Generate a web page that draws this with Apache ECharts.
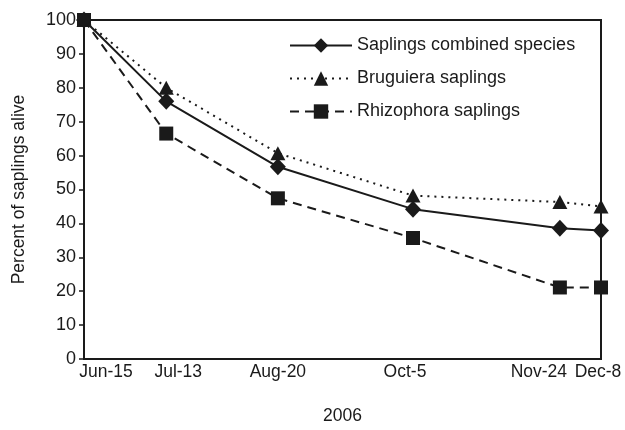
<!DOCTYPE html>
<html>
<head>
<meta charset="utf-8">
<script src="https://cdn.jsdelivr.net/npm/echarts@6/dist/echarts.min.js"></script>
<style>
html, body { margin: 0; padding: 0; background: #fff; }
#chart { width: 625px; height: 430px; }
</style>
</head>
<body>
<div id="chart"></div>
<script>
// sampling dates (2006) and days since Jun-15
var dateLabels = ['Jun-15', 'Jul-13', 'Aug-20', 'Oct-5', 'Nov-24', 'Dec-8'];
var dayNums = [0, 28, 66, 112, 162, 176];

// percent of saplings alive
var combined = [100, 76, 56.7, 44.2, 38.6, 37.9];
var bruguiera = [100, 80, 60.7, 48.2, 46.3, 45];
var rhizophora = [100, 66.5, 47.4, 35.7, 21.1, 21.1];

var yTicks = [0, 10, 20, 30, 40, 50, 60, 70, 80, 90, 100];

// label nudges (px) so the date labels don't crowd each other
var labelShift = [22, 12, 0, -8, -21, -3];

function pairs(vals) {
    return vals.map(function (v, i) { return [dayNums[i], v]; });
}

var rich = {};
labelShift.forEach(function (s, i) {
    rich['l' + i] = {
        fontFamily: 'Liberation Sans',
        fontSize: 17.5,
        color: '#1a1a1a',
        padding: s >= 0 ? [0, 0, 0, 2 * s] : [0, -2 * s, 0, 0]
    };
});

(function () {
    var myChart = echarts.init(document.getElementById('chart'));

    var option = {
        backgroundColor: '#fff',
        animation: false,
        textStyle: { fontFamily: 'Liberation Sans', color: '#1a1a1a' },
        grid: {
            left: 84, right: 24, top: 20, bottom: 63,
            show: true, borderColor: '#1a1a1a', borderWidth: 2
        },
        legend: {
            orient: 'vertical',
            left: 289,
            top: 36,
            padding: 0,
            itemWidth: 62,
            itemHeight: 18,
            itemGap: 14,
            textStyle: { fontSize: 18, color: '#1a1a1a', lineHeight: 19 },
            data: ['Saplings combined species', 'Bruguiera saplings', 'Rhizophora saplings']
        },
        xAxis: {
            type: 'value',
            min: 0,
            max: 176,
            name: '2006',
            nameLocation: 'middle',
            nameGap: 48,
            nameTextStyle: { fontSize: 17.5, color: '#1a1a1a' },
            splitLine: { show: false },
            axisLine: { lineStyle: { color: '#1a1a1a', width: 2 } },
            axisTick: { show: false },
            axisLabel: {
                customValues: dayNums,
                margin: 4,
                formatter: function (v) {
                    var i = dayNums.indexOf(v);
                    return '{l' + i + '|' + dateLabels[i] + '}';
                },
                rich: rich
            }
        },
        yAxis: {
            type: 'value',
            min: 0,
            max: 100,
            interval: 10,
            name: 'Percent of saplings alive',
            nameLocation: 'middle',
            nameGap: 56,
            nameTextStyle: { fontSize: 17.5, color: '#1a1a1a' },
            splitLine: { show: false },
            axisLine: { show: true, lineStyle: { color: '#1a1a1a', width: 2 } },
            axisTick: { show: true, length: 5, lineStyle: { color: '#1a1a1a', width: 1.5 } },
            axisLabel: {
                fontSize: 18,
                color: '#1a1a1a',
                margin: 8,
                formatter: function (v) { return yTicks.indexOf(v) >= 0 ? String(v) : ''; }
            }
        },
        series: [
            {
                name: 'Saplings combined species',
                type: 'line',
                data: pairs(combined),
                symbol: 'diamond',
                symbolSize: [16, 17],
                itemStyle: { color: '#1a1a1a' },
                lineStyle: { color: '#1a1a1a', width: 2, type: 'solid' },
                z: 3
            },
            {
                name: 'Bruguiera saplings',
                type: 'line',
                data: pairs(bruguiera),
                symbol: 'triangle',
                symbolSize: [15, 14],
                itemStyle: { color: '#1a1a1a' },
                lineStyle: { color: '#1a1a1a', width: 2, type: [2, 5] },
                z: 2
            },
            {
                name: 'Rhizophora saplings',
                type: 'line',
                data: pairs(rhizophora),
                symbol: 'rect',
                symbolSize: 14,
                itemStyle: { color: '#1a1a1a' },
                lineStyle: { color: '#1a1a1a', width: 2, type: [9, 6] },
                z: 2
            }
        ]
    };

    myChart.setOption(option);
})();
</script>
</body>
</html>
